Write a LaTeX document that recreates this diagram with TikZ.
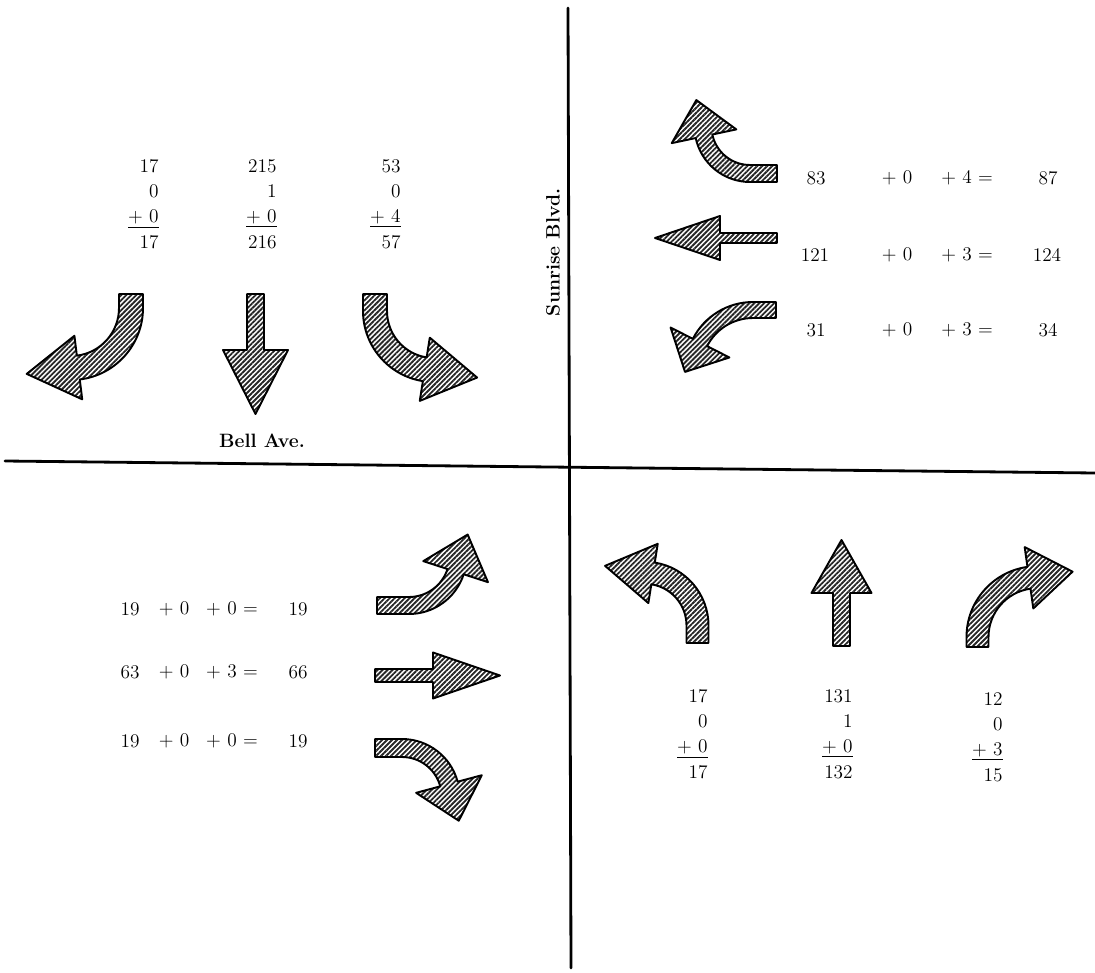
\documentclass[tikz,border=0pt]{standalone}
\usepackage{tikz}
\usetikzlibrary{patterns.meta}

% turn arrow: tail at #1, rotation #2, mirror #3, half shaft #4, straight part #5,
% bend radius #6, bend angle #7, half head #8, head length #9
\newcommand{\turnarr}[9]{%
  \begin{scope}[shift={#1},rotate=#2,xscale=#3]
    \draw[hatched] (#4,0) -- (#4,#5) arc[start angle=0,end angle=#7,radius=#6+#4]
      -- ([shift={(-#6,#5)},rotate=#7] #6+#8,0) -- ([shift={(-#6,#5)},rotate=#7] #6,#9)
      -- ([shift={(-#6,#5)},rotate=#7] #6-#8,0) -- ([shift={(-#6,#5)},rotate=#7] #6-#4,0)
      arc[start angle=#7,end angle=0,radius=#6-#4] -- (-#4,0) -- cycle;
  \end{scope}}
% straight arrow: tail at #1, rotation #2, half shaft #3, shaft length #4, half head #5, head length #6
\newcommand{\thruarr}[6]{%
  \begin{scope}[shift={#1},rotate=#2]
    \draw[hatched] (#3,0) -- (#3,#4) -- (#5,#4) -- (0,#4+#6) -- (-#5,#4) -- (-#3,#4) -- (-#3,0) -- cycle;
  \end{scope}}

\begin{document}
\begin{tikzpicture}[
    x=0.02cm, y=0.02cm, yscale=-1,
    road/.style={line width=1.6pt, line cap=round},
    hatched/.style={draw=black, line width=1.1pt, line join=round, pattern={Lines[angle=45,distance=2pt,line width=1.05pt]}, pattern color=black!85},
    num/.style={font=\fontsize{11}{14.4}\selectfont, inner sep=0pt},
    column/.style={num, align=right, anchor=east},
    streetname/.style={font=\fontsize{11}{13}\selectfont\bfseries, inner sep=0pt},
  ]
  \useasboundingbox (0,0) rectangle (1095,973);
  % roads
  \coordinate (sunrisen) at (568,8);
  \coordinate (sunrises) at (571,968);
  \coordinate (bellw) at (5,461);
  \coordinate (belle) at (1095,473);
  \draw[road] (sunrisen) -- (sunrises);
  \draw[road] (bellw) -- (belle);
  \node[streetname, rotate=90] (sunrise) at (553,252) {Sunrise Blvd.};
  \node[streetname] (bell) at (262,441) {Bell Ave.};
  % southbound
  \node[column] (sbright) at (159,204) {17\\0\\\underline{+ 0}\\17};
  \node[column] (sbthru) at (277,204) {215\\1\\\underline{+ 0}\\216};
  \node[column] (sbleft) at (401,204) {53\\0\\\underline{+ 4}\\57};
  \turnarr{(131,294)}{0}{1}{12}{14}{60}{83}{32}{52}
  \thruarr{(255.5,294)}{0}{8.5}{56}{32.5}{64}
  \turnarr{(375,294)}{0}{-1}{12}{17}{59}{81}{32}{53}
  % westbound
  \node[num] (wbright) at (816,178) {83};
  \node[num] (wbrighta) at (897,178) {+ 0};
  \node[num] (wbrightb) at (967,178) {+ 4 =};
  \node[num] (wbrights) at (1048,178) {87};
  \node[num] (wbthru) at (815,255) {121};
  \node[num] (wbthrua) at (897,255) {+ 0};
  \node[num] (wbthrub) at (967,255) {+ 3 =};
  \node[num] (wbthrus) at (1047,255) {124};
  \node[num] (wbleft) at (816,330) {31};
  \node[num] (wblefta) at (897,330) {+ 0};
  \node[num] (wbleftb) at (967,330) {+ 3 =};
  \node[num] (wblefts) at (1048,330) {34};
  \turnarr{(777,173.5)}{90}{1}{8.5}{27}{47}{78}{33}{37}
  \thruarr{(777,238)}{90}{5}{57}{22}{65}
  \turnarr{(776,310)}{90}{-1}{8}{23}{59.5}{63}{33}{33}
  % eastbound
  \node[num] (ebleft) at (130,609) {19};
  \node[num] (eblefta) at (174,609) {+ 0};
  \node[num] (ebleftb) at (232,609) {+ 0 =};
  \node[num] (eblefts) at (298,609) {19};
  \node[num] (ebthru) at (130,672) {63};
  \node[num] (ebthrua) at (174,672) {+ 0};
  \node[num] (ebthrub) at (232,672) {+ 3 =};
  \node[num] (ebthrus) at (298,672) {66};
  \node[num] (ebright) at (130,741) {19};
  \node[num] (ebrighta) at (174,741) {+ 0};
  \node[num] (ebrightb) at (232,741) {+ 0 =};
  \node[num] (ebrights) at (298,741) {19};
  \turnarr{(377,605.5)}{-90}{-1}{8.5}{32}{49}{72}{34}{39}
  \thruarr{(375,675.5)}{-90}{6.5}{58}{23}{67}
  \turnarr{(375,748)}{-90}{1}{9}{27}{48.6}{75}{34}{38}
  % northbound
  \node[column] (nbleft) at (708,734) {17\\0\\\underline{+ 0}\\17};
  \node[column] (nbthru) at (853,734) {131\\1\\\underline{+ 0}\\132};
  \node[column] (nbright) at (1003,737) {12\\0\\\underline{+ 3}\\15};
  \turnarr{(697.5,643)}{180}{-1}{11}{17.5}{52.7}{81}{30}{48.6}
  \thruarr{(841.5,646)}{180}{8.5}{53}{30}{53}
  \turnarr{(977.5,647)}{180}{1}{11}{10}{59.8}{82}{31}{44}
\end{tikzpicture}
\end{document}
